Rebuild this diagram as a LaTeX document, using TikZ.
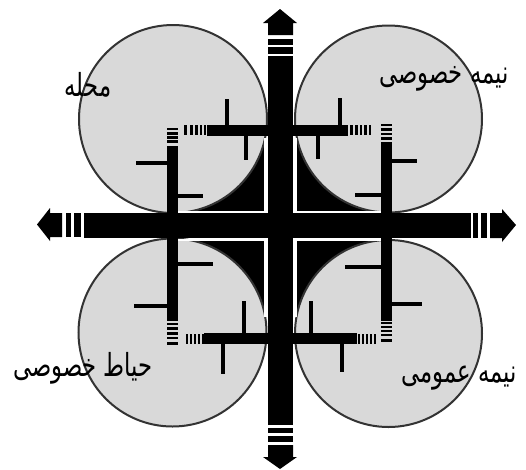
\documentclass[tikz,border=0pt]{standalone}
\usepackage{fontspec}
\TeXXeTstate=1
\newfontfamily\arabicfont[Script=Arabic]{DejaVu Sans}
\definecolor{plot}{HTML}{D9D9D9}
\definecolor{ring}{HTML}{333333}
\newcommand{\farsitext}[1]{\scalebox{1}[1.4]{\beginR #1\endR}}
\tikzset{
  plotdisc/.style={fill=plot,draw=ring,line width=1.5},
  solidbar/.style={fill=black,draw=none},
  tick/.style={line width=3.2,draw=black},
  seam/.style={draw=white,line width=2},
  farsi/.style={inner sep=0pt,font=\arabicfont\fontsize{17}{20}\selectfont,text=black}
}
\begin{document}
\begin{tikzpicture}[x=0.75pt,y=-0.75pt]
\useasboundingbox (0,0) rectangle (526,469);
% corner spandrels
\fill[black] (173,119) rectangle (264,211);
\fill[black] (297,119) rectangle (388,211);
\fill[black] (173,240) rectangle (264,332);
\fill[black] (297,240) rectangle (388,332);
% four plots
\path[plotdisc] (173,119) circle[radius=94];
\path[plotdisc] (388.5,119) circle[radius=93.5];
\path[plotdisc] (172.5,332.5) circle[radius=94];
\path[plotdisc] (388.5,333.5) circle[radius=93.5];
% white seams
\draw[seam] (265.5,138) -- (265.5,212.5) -- (175,212.5);
\draw[seam] (295.5,138) -- (295.5,212.5) -- (386,212.5);
\draw[seam] (265.5,317) -- (265.5,240) -- (175,240);
\draw[seam] (295.5,317) -- (295.5,240) -- (386,240);
% main roads
\path[solidbar] (84,213) rectangle (471,238);
\path[solidbar] (268,56) rectangle (293,425);
% left arrow
\path[solidbar] (37,224.5) -- (50,208) -- (50,213) -- (62,213) -- (62,237) -- (50,237) -- (50,241) -- cycle;
\path[solidbar] (66,213) rectangle (71,237);
\path[solidbar] (74,213) rectangle (81,237);
% right arrow
\path[solidbar] (516,225) -- (502,209) -- (502,213) -- (490,213) -- (490,238) -- (502,238) -- (502,242) -- cycle;
\path[solidbar] (473,213) rectangle (478,238);
\path[solidbar] (481,213) rectangle (487,238);
% top arrow
\path[solidbar] (280,9) -- (263,23) -- (268,23) -- (268,35) -- (293,35) -- (293,23) -- (297,23) -- cycle;
\path[solidbar] (268,39) rectangle (293,45);
\path[solidbar] (268,47) rectangle (293,54);
% bottom arrow
\path[solidbar] (280,469) -- (263,457) -- (268,457) -- (268,445) -- (293,445) -- (293,457) -- (297,457) -- cycle;
\path[solidbar] (268,428) rectangle (293,433);
\path[solidbar] (268,436) rectangle (293,442);
% top-left lane system
\path[solidbar] (207,125) rectangle (268,136);
\path[solidbar] (167,146) rectangle (178,213);
\foreach \a/\b in {184/187,190/193,195/198,200/202,204/206} \path[solidbar] (\a,125) rectangle (\b,135);
\foreach \a/\b in {128/130,132/134.5,136/138.5,140/143} \path[solidbar] (167,\a) rectangle (178,\b);
\draw[tick] (227,99) -- (227,125);
\draw[tick] (246,136) -- (246,160);
\draw[tick] (136,163) -- (167,163);
\draw[tick] (178,196) -- (203,196);
% top-right lane system
\path[solidbar] (293,125) rectangle (348,136);
\path[solidbar] (381,142) rectangle (392,213);
\foreach \a/\b in {350/352.5,355/357.5,359.5/362,364/366.5,368.5/371} \path[solidbar] (\a,125) rectangle (\b,135);
\foreach \a/\b in {124/126,128/130.5,132.5/135,137/140} \path[solidbar] (381,\a) rectangle (392,\b);
\draw[tick] (340,98) -- (340,125);
\draw[tick] (318,136) -- (318,159);
\draw[tick] (392,161) -- (417,161);
\draw[tick] (355,195) -- (381,195);
% bottom-left lane system
\path[solidbar] (204,333) rectangle (268,344);
\path[solidbar] (167,238) rectangle (178,321);
\foreach \a/\b in {186/188,190/192,194/196,198/200,202/204} \path[solidbar] (\a,334) rectangle (\b,344);
\foreach \a/\b in {323/325,327/330,332/334.5,336.5/339,342/345} \path[solidbar] (167,\a) rectangle (178,\b);
\draw[tick] (244,301) -- (244,333);
\draw[tick] (223,344) -- (223,374);
\draw[tick] (178,264) -- (213,264);
\draw[tick] (134,306) -- (167,306);
% bottom-right lane system
\path[solidbar] (293,333) rectangle (357,344);
\path[solidbar] (381,238) rectangle (392,321);
\foreach \a/\b in {358/360,362/364,366/368,370/372,374/376} \path[solidbar] (\a,334) rectangle (\b,344);
\foreach \a/\b in {322/324,326/328,330/332,334/336,339/342} \path[solidbar] (381,\a) rectangle (392,\b);
\draw[tick] (311,301) -- (311,333);
\draw[tick] (342,344) -- (342,372);
\draw[tick] (345,267) -- (381,267);
\draw[tick] (392,304) -- (422,304);
% labels
\node[farsi] (mahalle) at (88,85) {\farsitext{محله}};
\node[farsi] (semiprivate) at (444,79) {\farsitext{نیمه خصوصی}};
\node[farsi] (yard) at (83,368) {\farsitext{حیاط خصوصی}};
\node[farsi] (semipublic) at (459,378) {\farsitext{نیمه عمومی}};
\end{tikzpicture}
\end{document}
